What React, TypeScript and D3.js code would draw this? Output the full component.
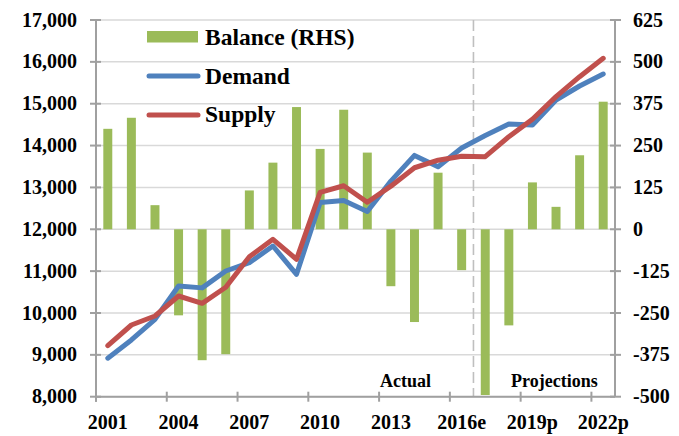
import React from "react";
import * as d3 from "d3";

const years = ["2001","2002","2003","2004","2005","2006","2007","2008","2009","2010","2011","2012","2013","2014","2015","2016","2017","2018","2019","2020","2021","2022"];
const yearLabels = ["2001","","","2004","","","2007","","","2010","","","2013","","","2016e","","","2019p","","","2022p"];
const demand = [8920,9355,9850,10645,10600,11003,11202,11600,10924,12640,12690,12425,13150,13765,13495,13940,14240,14516,14492,15089,15423,15710];
const supply = [9218,9713,9928,10406,10231,10614,11345,11760,11283,12880,13040,12645,13030,13470,13650,13745,13735,14212,14630,15168,15645,16085];
const balance = [300,333,72,-257,-391,-373,116,199,365,240,357,229,-170,-277,169,-122,-495,-287,140,67,221,381];
const leftTicks = [8000,9000,10000,11000,12000,13000,14000,15000,16000,17000];
const rightTicks = [-500,-375,-250,-125,0,125,250,375,500,625];

const W = 679, H = 436;
const L = 96, R = 615, T = 20, B = 396.7;
const FONT = "'Liberation Serif', 'Times New Roman', serif";

export default function App() {
  const x = d3.scaleBand<string>().domain(years).range([L, R]).padding(0);
  const yL = d3.scaleLinear().domain([8000, 17000]).range([B, T]);
  const yR = d3.scaleLinear().domain([-500, 625]).range([B, T]);
  const bw = x.bandwidth() * 0.38;
  const cx = (i: number) => (x(years[i]) as number) + x.bandwidth() / 2;

  const line = d3.line<number>().x((_, i) => cx(i)).y((d) => yL(d));
  const splitX = x("2017") as number;

  const axisColor = "#A0A0A0";
  const gridColor = "#D9D9D9";

  return (
    <svg width={W} height={H} style={{ position: "absolute", left: 0, top: 0, background: "#fff" }} fontFamily={FONT}>
      {leftTicks.map((t) => (
        <line key={"g" + t} x1={L} x2={R} y1={yL(t)} y2={yL(t)} stroke={gridColor} strokeWidth={1.5} />
      ))}
      <line x1={splitX} x2={splitX} y1={T} y2={B} stroke="#BFBFBF" strokeWidth={1.6} strokeDasharray="11,5" />
      {balance.map((v, i) => {
        const y0 = yR(0), y1 = yR(v);
        return (
          <rect key={"b" + i} x={cx(i) - bw / 2} y={Math.min(y0, y1)} width={bw} height={Math.abs(y1 - y0)} fill="#9BBB59" />
        );
      })}
      <line x1={L} x2={L} y1={T} y2={B + 5} stroke={axisColor} strokeWidth={2} />
      <line x1={R} x2={R} y1={T} y2={B} stroke={axisColor} strokeWidth={2} />
      <line x1={L} x2={R} y1={B} y2={B} stroke={axisColor} strokeWidth={2} />
      {leftTicks.map((t) => (
        <line key={"lt" + t} x1={L - 6} x2={L + 5} y1={yL(t)} y2={yL(t)} stroke={axisColor} strokeWidth={2} />
      ))}
      {rightTicks.map((t) => (
        <line key={"rt" + t} x1={R - 5} x2={R + 6} y1={yR(t)} y2={yR(t)} stroke={axisColor} strokeWidth={2} />
      ))}
      {years.map((y, i) =>
        i % 3 === 0 ? (
          <line key={"xt" + y} x1={x(y) as number} x2={x(y) as number} y1={B - 5} y2={B + 5} stroke={axisColor} strokeWidth={2} />
        ) : null
      )}
      <path d={line(demand) || ""} fill="none" stroke="#4F81BD" strokeWidth={5} strokeLinejoin="round" strokeLinecap="round" />
      <path d={line(supply) || ""} fill="none" stroke="#C0504D" strokeWidth={5} strokeLinejoin="round" strokeLinecap="round" />
      {leftTicks.map((t) => (
        <text key={"ll" + t} x={77} y={yL(t)} dy="0.33em" textAnchor="end" fontSize={20} fontWeight="bold" fill="#000">
          {d3.format(",")(t)}
        </text>
      ))}
      {rightTicks.map((t) => (
        <text key={"rl" + t} x={633} y={yR(t)} dy="0.33em" textAnchor="start" fontSize={20} fontWeight="bold" fill="#000">
          {String(t)}
        </text>
      ))}
      {yearLabels.map((lab, i) =>
        lab ? (
          <text key={"xl" + i} x={cx(i)} y={429} textAnchor="middle" fontSize={20} fontWeight="bold" fill="#000">
            {lab}
          </text>
        ) : null
      )}
      <text x={380} y={386.5} fontSize={18} fontWeight="bold" fill="#000">Actual</text>
      <text x={511} y={386.5} fontSize={18} fontWeight="bold" fill="#000">Projections</text>
      <rect x={147} y={31} width={51} height={11.5} fill="#9BBB59" />
      <text x={205} y={45} fontSize={23.5} fontWeight="bold" fill="#000">Balance (RHS)</text>
      <line x1={149} x2={198} y1={76} y2={76} stroke="#4F81BD" strokeWidth={5} strokeLinecap="round" />
      <text x={205} y={83.5} fontSize={23.5} fontWeight="bold" fill="#000">Demand</text>
      <line x1={149} x2={198} y1={115} y2={115} stroke="#C0504D" strokeWidth={5} strokeLinecap="round" />
      <text x={205} y={122} fontSize={23.5} fontWeight="bold" fill="#000">Supply</text>
    </svg>
  );
}
